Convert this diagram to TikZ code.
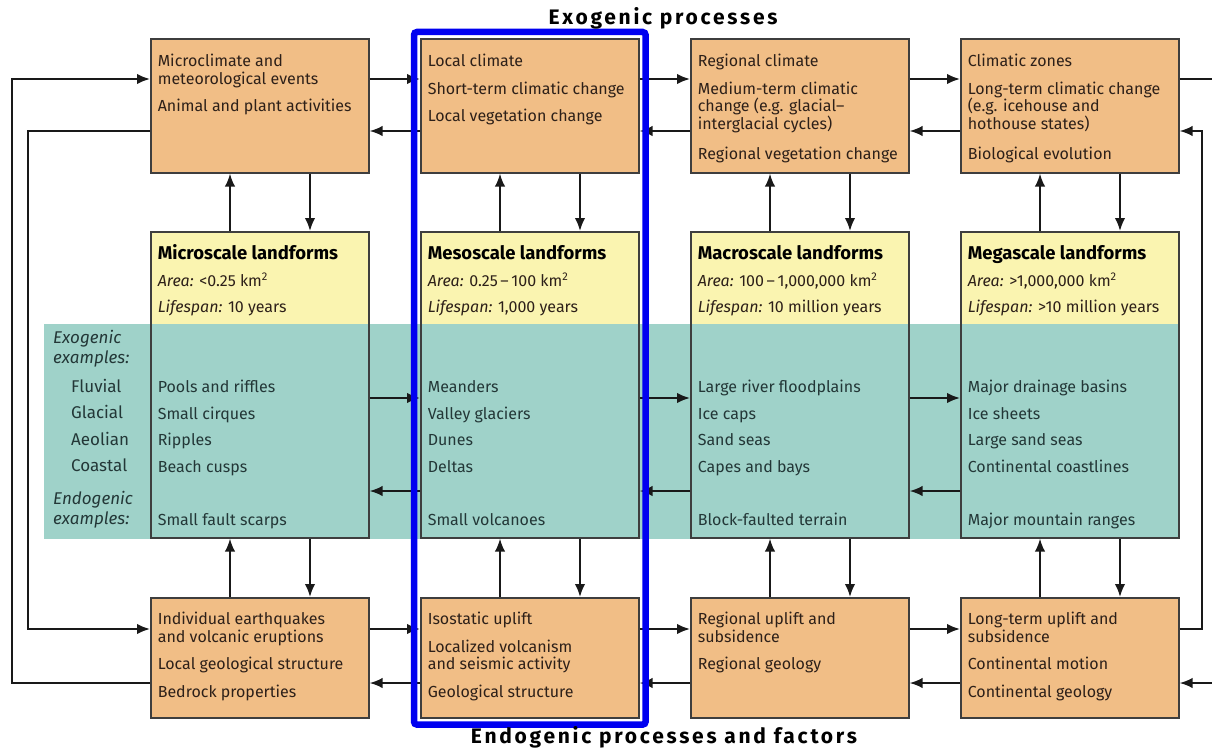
\documentclass[tikz,border=0pt]{standalone}
\usepackage{fontspec}
\setmainfont{Fira Sans}
\newfontfamily\headfont[LetterSpace=13]{Fira Sans}
\usetikzlibrary{arrows.meta,fit,calc}
\pgfdeclarelayer{background}
\pgfsetlayers{background,main}
\definecolor{procfill}{RGB}{241,190,134}
\definecolor{landyellow}{RGB}{250,244,176}
\definecolor{bandteal}{RGB}{159,210,201}
\definecolor{boxline}{RGB}{62,62,62}
\definecolor{procink}{RGB}{45,32,25}
\definecolor{bandink}{RGB}{35,55,55}
\definecolor{arrowink}{RGB}{25,25,25}
\definecolor{hlblue}{RGB}{0,0,240}

\begin{document}
\begin{tikzpicture}[
    x=1pt,
    y=-1pt,
    proc/.style ={
        draw=boxline,
        fill=procfill,
        line width=1.6pt,
        anchor=north west,
        inner xsep=7pt,
        inner ysep=0pt,
        text=procink,
        font=\fontsize{16}{17.5}\selectfont
    },
    land/.style ={
        draw=boxline,
        line width=1.6pt,
        anchor=north west,
        inner xsep=7pt,
        inner ysep=0pt,
        text=bandink,
        font=\fontsize{16}{26.5}\selectfont
    },
    arr/.style ={
        draw=arrowink,
        line width=2pt,
        -{Latex[length=13pt,width=10.5pt]}
    },
    ln/.style ={
        draw=arrowink,
        line width=2pt
    }
    ]
    \useasboundingbox (0,0) rectangle (1212,752);

    \foreach \i/\xx/\txt in {
        1/150/{Microclimate and\\meteorological events\\[10pt]Animal and plant activities},
        2/420/{Local climate\\[10pt]Short-term climatic change\\[10pt]Local vegetation change},
        3/690/{Regional climate\\[10pt]Medium-term climatic\\change (e.g. glacial--\\interglacial cycles)\\[13pt]Regional~vegetation~change},
        4/960/{Climatic zones\\[10pt]Long-term climatic change\\(e.g. icehouse and\\hothouse states)\\[13pt]Biological evolution}}
        \node[proc] (t\i) at (\xx,38) {\parbox[t][134pt][t]{204pt}{\raggedright\rule{0pt}{28pt}\txt}};

    \foreach \i/\xx/\ttl/\area/\life/\exo in {
        1/150/Microscale/{<0.25}/{10 years}/{Pools and riffles\\Small cirques\\Ripples\\Beach cusps\\[26.5pt]Small fault scarps},
        2/420/Mesoscale/{0.25\,--\,100}/{1,000 years}/{Meanders\\Valley glaciers\\Dunes\\Deltas\\[26.5pt]Small volcanoes},
        3/690/Macroscale/{100\,--\,1,000,000}/{10 million years}/{Large river floodplains\\Ice caps\\Sand seas\\Capes and bays\\[26.5pt]Block-faulted terrain},
        4/960/Megascale/{>1,000,000}/{>10 million years}/{Major drainage basins\\Ice sheets\\Large sand seas\\Continental coastlines\\[26.5pt]Major mountain ranges}}
        \node[land] (m\i) at (\xx,231) {\parbox[t][306pt][t]{204pt}{\raggedright\rule{0pt}{28pt}%
            {\color{black}\fontsize{18.5}{26.5}\selectfont\bfseries \ttl\ landforms}\\
            {\color{procink}\textit{Area:} \area\ km\textsuperscript{2}}\\
            {\color{procink}\textit{Lifespan:} \life}\\[53.5pt]
            \exo}};

    \foreach \i/\xx/\txt in {
        1/150/{Individual earthquakes\\and volcanic eruptions\\[10pt]Local geological structure\\[10pt]Bedrock properties},
        2/420/{Isostatic uplift\\[10pt]Localized volcanism\\and seismic activity\\[10pt]Geological structure},
        3/690/{Regional uplift and\\subsidence\\[10pt]Regional geology},
        4/960/{Long-term uplift and\\subsidence\\[10pt]Continental motion\\[10pt]Continental geology}}
        \node[proc] (b\i) at (\xx,597) {\parbox[t][120pt][t]{204pt}{\raggedright\rule{0pt}{27pt}\txt}};

    \begin{pgfonlayer}{background}
        \coordinate (bandnw) at (44,324);
        \fill[bandteal] (bandnw) rectangle (m4.south east);
        \foreach \i in {1,...,4}
            \fill[landyellow] (m\i.north west) rectangle (m\i.east |- bandnw);
    \end{pgfonlayer}

    \node[anchor=north west, inner sep=0pt, text=bandink, font=\fontsize{17}{20}\selectfont] (exl) at (53,324)
        {\parbox[t]{95pt}{\rule{0pt}{19pt}\textit{Exogenic}\\\textit{examples:}\\[9pt]%
        \hspace*{18pt}Fluvial\\[6.5pt]\hspace*{18pt}Glacial\\[6.5pt]\hspace*{18pt}Aeolian\\[6.5pt]\hspace*{18pt}Coastal\\[13pt]%
        \textit{Endogenic}\\\textit{examples:}}};

    \foreach \a/\b in {1/2,2/3,3/4}{
        \draw[arr] ([yshift=-41pt]t\a.north east) -- ([yshift=-41pt]t\b.north west);
        \draw[arr] ([yshift=-93pt]t\b.north west) -- ([yshift=-93pt]t\a.north east);
        \draw[arr] ([yshift=-167pt]m\a.north east) -- ([yshift=-167pt]m\b.north west);
        \draw[arr] ([yshift=-260pt]m\b.north west) -- ([yshift=-260pt]m\a.north east);
        \draw[arr] ([yshift=-32pt]b\a.north east) -- ([yshift=-32pt]b\b.north west);
        \draw[arr] ([yshift=-86pt]b\b.north west) -- ([yshift=-86pt]b\a.north east);
    }
    \foreach \i in {1,...,4}{
        \draw[arr] ([xshift=80pt]m\i.north west) -- ([xshift=80pt]t\i.south west);
        \draw[arr] ([xshift=160pt]t\i.south west) -- ([xshift=160pt]m\i.north west);
        \draw[arr] ([xshift=80pt]b\i.north west) -- ([xshift=80pt]m\i.south west);
        \draw[arr] ([xshift=160pt]m\i.south west) -- ([xshift=160pt]b\i.north west);
    }

    \draw[arr] ([yshift=-86pt]b1.north west) -- ++(-138,0) |- ([yshift=-41pt]t1.north west);
    \draw[arr] ([yshift=-93pt]t1.north west) -- ++(-122,0) |- ([yshift=-32pt]b1.north west);

    \coordinate (outR) at (1212,79);
    \coordinate (inR) at (1212,683);
    \draw[ln] ([yshift=-41pt]t4.north east) -- (outR);
    \draw[arr] (inR) -- ([yshift=-86pt]b4.north east);
    \draw[arr] ([yshift=-32pt]b4.north east) -- ++(22,0) |- ([yshift=-93pt]t4.north east);

    \node[fit=(t2)(b2), draw=hlblue, line width=6.5pt, inner sep=6pt, rounded corners=3pt] (hl) {};

    \node[anchor=base, font=\headfont\bfseries\fontsize{21}{21}\selectfont] (exo) at (663,25) {Exogenic processes};
    \node[anchor=base, font=\headfont\bfseries\fontsize{21}{21}\selectfont] (endo) at (664,743) {Endogenic processes and factors};
\end{tikzpicture}
\end{document}
